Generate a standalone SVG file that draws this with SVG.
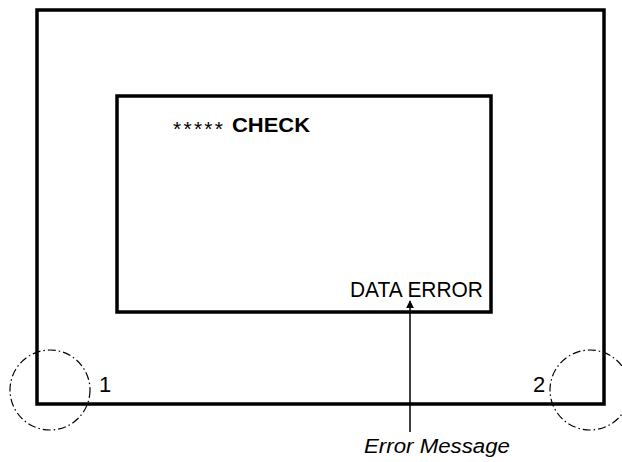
<svg xmlns="http://www.w3.org/2000/svg" width="622" height="462" viewBox="0 0 622 462">
<style>
.frame{fill:none;stroke:#000;stroke-width:3.5}
.circ{fill:none;stroke:#000;stroke-width:1.2;stroke-dasharray:8 3 1.5 3}
.t{font-family:"Liberation Sans",Arial,sans-serif;fill:#000}
</style>
<defs>
<marker id="ah" viewBox="0 0 10 10" refX="9" refY="5" markerWidth="8" markerHeight="8" markerUnits="userSpaceOnUse" orient="auto">
<path d="M0,0 L10,5 L0,10 z" fill="#000"/>
</marker>
</defs>
<rect width="622" height="462" fill="#fff"/>
<g id="outer"><rect class="frame" x="37" y="10" width="567" height="394"/></g>
<g id="screen"><rect class="frame" x="117" y="96" width="374" height="216"/>
<text class="t" x="173" y="136" font-size="21" textLength="50" lengthAdjust="spacing">*****</text>
<text class="t" x="232" y="132" font-size="21" font-weight="bold" textLength="78" lengthAdjust="spacingAndGlyphs">CHECK</text>
<text class="t" x="350" y="297" font-size="22" textLength="133" lengthAdjust="spacingAndGlyphs">DATA ERROR</text>
</g>
<g id="c1"><circle class="circ" cx="50" cy="390" r="40"/><text class="t" x="99" y="392" font-size="22">1</text></g>
<g id="c2"><circle class="circ" cx="590" cy="390" r="40"/><text class="t" x="533" y="392" font-size="22">2</text></g>
<g id="connectors"><line x1="410" y1="432" x2="410" y2="301" stroke="#000" stroke-width="1.5" marker-end="url(#ah)"/></g>
<g id="label"><text class="t" x="364" y="453" font-size="20" font-style="italic" textLength="146" lengthAdjust="spacingAndGlyphs">Error Message</text></g>
</svg>
